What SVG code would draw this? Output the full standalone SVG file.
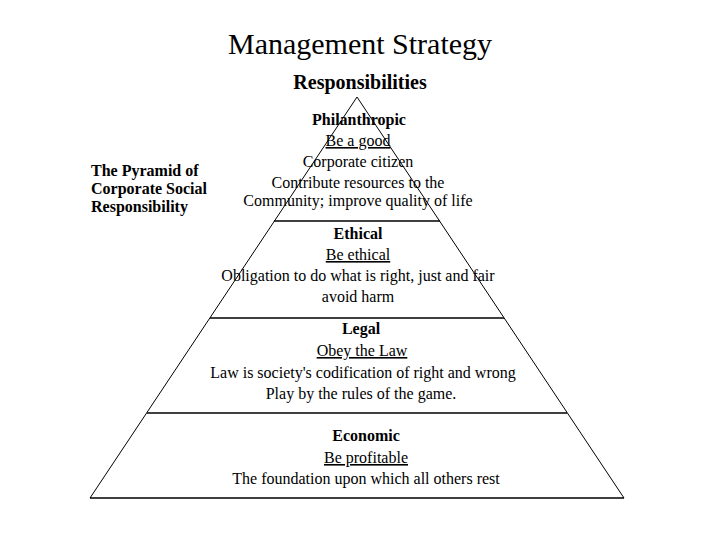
<svg xmlns="http://www.w3.org/2000/svg" width="720" height="540" viewBox="0 0 720 540">
<style>
text{font-family:"Liberation Serif","Times New Roman",serif;fill:#000}
.t{font-size:16px;text-anchor:middle}
.b{font-weight:bold}
.u{text-decoration:underline}
.side{stroke:#000;stroke-width:1;fill:none}
.div{stroke:#000;stroke-width:1.5;fill:none}
</style>
<rect width="720" height="540" fill="#fff"/>
<g id="title">
<text x="360" y="54" font-size="30" text-anchor="middle">Management Strategy</text>
<text x="360" y="89" font-size="20" text-anchor="middle" font-weight="bold">Responsibilities</text>
</g>
<g id="caption">
<text x="91" y="176" font-size="16" font-weight="bold">The Pyramid of</text>
<text x="91" y="194" font-size="16" font-weight="bold">Corporate Social</text>
<text x="91" y="212" font-size="16" font-weight="bold">Responsibility</text>
</g>
<g id="pyramid">
<polyline class="side" points="90,498 357,97 624,498"/>
<line class="div" x1="90" y1="498" x2="624" y2="498"/>
<line class="div" x1="274" y1="221" x2="440" y2="221"/>
<line class="div" x1="210" y1="318" x2="504" y2="318"/>
<line class="div" x1="147" y1="413" x2="567" y2="413"/>
</g>
<g id="philanthropic">
<text class="t b" x="359" y="125">Philanthropic</text>
<text class="t u" x="358" y="146">Be a good</text>
<text class="t" x="358" y="167">Corporate citizen</text>
<text class="t" x="358" y="188">Contribute resources to the</text>
<text class="t" x="358" y="206">Community; improve quality of life</text>
</g>
<g id="ethical">
<text class="t b" x="358" y="239">Ethical</text>
<text class="t u" x="358" y="260">Be ethical</text>
<text class="t" x="358" y="281">Obligation to do what is right, just and fair</text>
<text class="t" x="358" y="302">avoid harm</text>
</g>
<g id="legal">
<text class="t b" x="361" y="334">Legal</text>
<text class="t u" x="362" y="356">Obey the Law</text>
<text class="t" x="363" y="378">Law is society's codification of right and wrong</text>
<text class="t" x="361" y="399">Play by the rules of the game.</text>
</g>
<g id="economic">
<text class="t b" x="366" y="441">Economic</text>
<text class="t u" x="366" y="463">Be profitable</text>
<text class="t" x="366" y="484">The foundation upon which all others rest</text>
</g>
<g id="connectors"></g>
</svg>
